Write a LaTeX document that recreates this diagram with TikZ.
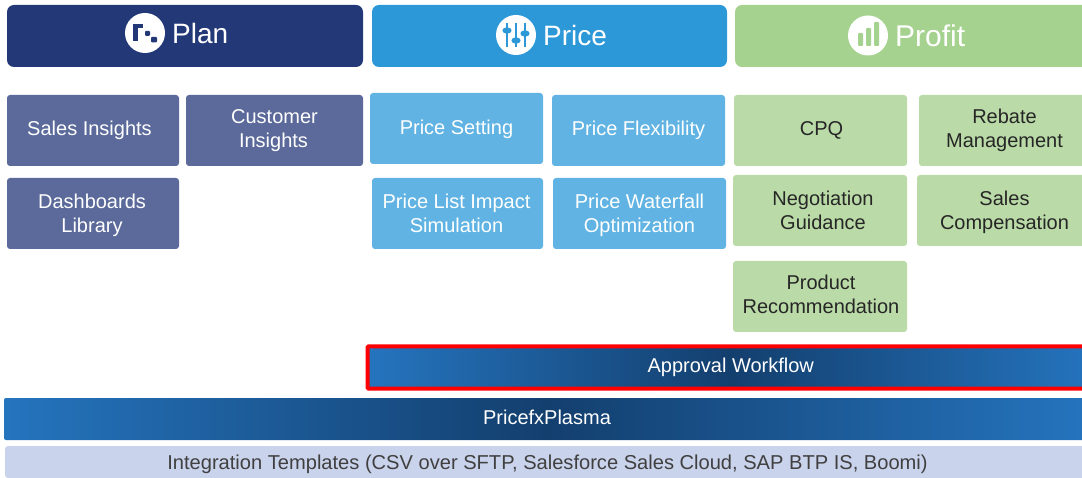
\documentclass[tikz,border=0pt]{standalone}
\usepackage{fontspec}
\setmainfont{Liberation Sans}
\tikzset{x=1pt,y=-1pt,
 base/.style={rounded corners=3pt,align=center,inner sep=0pt,font=\fontsize{20}{24}\selectfont,text depth=0pt},
 up2/.style={text depth=4pt},
 planbox/.style={base,fill=plancol,text=white},
 pricebox/.style={base,fill=pricecol,text=white},
 profitbox/.style={base,fill=profitcol,text=black!85},
 head/.style={rounded corners=7pt,inner sep=0pt,text=white},
 headtext/.style={anchor=west,text=white,inner sep=0pt},
 bar/.style={inner sep=0pt,rounded corners=2pt,left color=barlight,right color=barlight,middle color=bardark,text=white,font=\fontsize{20}{24}\selectfont},
 icon/.style={circle,fill=white,draw=none,minimum size=40pt,inner sep=0pt}}
\definecolor{plancol}{HTML}{5B6A9A}
\definecolor{pricecol}{HTML}{60B3E2}
\definecolor{profitcol}{HTML}{BADBA7}
\definecolor{barlight}{HTML}{2574BE}
\definecolor{bardark}{HTML}{133F6E}
\definecolor{headplan}{HTML}{233876}
\definecolor{headprice}{HTML}{2C98D8}
\definecolor{headprofit}{HTML}{A5D28F}
\definecolor{intcol}{HTML}{CAD3EC}
\newcommand{\bx}[7]{\node[#1,minimum width=#5pt-#3pt,minimum height=#6pt-#4pt] (#2) at ({(#3+#5)/2},{(#4+#6)/2}) {#7};}
\begin{document}
\begin{tikzpicture}
\useasboundingbox (0,0) rectangle (1082,478);
\clip (0,0) rectangle (1082,478);
\fill[white] (0,0) rectangle (1082,478);
% headers
\bx{head,fill=headplan}{hplan}{7}{5}{363}{67}{}
\bx{head,fill=headprice}{hprice}{372}{5}{727}{67}{}
\bx{head,fill=headprofit}{hprofit}{735}{5}{1092}{67}{}
\node[headtext,font=\fontsize{28}{32}\selectfont] (tplan) at (172,33) {Plan};
\node[headtext,font=\fontsize{28}{32}\selectfont] (tprice) at (543,35) {Price};
\node[headtext,font=\fontsize{30}{34}\selectfont] (tprofit) at (895,36) {Profit};
% icons
\node[icon] (iplan) at (145,33) {};
\fill[headplan] (133,24) rectangle (138,41);
\fill[headplan] (133,24) rectangle (143,28);
\fill[headplan,rounded corners=1pt] (145,31) rectangle (150,36);
\fill[headplan,rounded corners=1pt] (151,37) rectangle (157,42.5);
\node[icon] (iprice) at (516,35) {};
\foreach \xx/\yy in {507/30.5,516/40.5,525/33.5}{
 \draw[headprice,line width=2pt] (\xx,23) -- (\xx,47);
 \fill[headprice] (\xx,\yy) ellipse (4.6pt and 3.2pt);}
\node[icon] (iprofit) at (868,35.5) {};
\fill[headprofit,rounded corners=1pt] (858,33) rectangle (863,46);
\fill[headprofit,rounded corners=1pt] (866,28) rectangle (871,46);
\fill[headprofit,rounded corners=1pt] (874,22) rectangle (879,46);
% plan
\bx{planbox,up2}{sales}{7}{95}{179}{166}{Sales Insights\hspace*{7pt}}
\bx{planbox,up2}{cust}{186}{95}{363}{166}{Customer\\Insights\vphantom{g}\hspace*{2pt}}
\bx{planbox}{dash}{7}{178}{179}{249}{Dashboards\hspace*{2pt}\\Library\hspace*{2pt}}
% price
\bx{pricebox,text depth=2pt}{pset}{370}{93}{543}{164}{Price Setting}
\bx{pricebox,up2}{pflex}{552}{95}{725}{166}{Price Flexibility}
\bx{pricebox}{plist}{372}{178}{543}{249}{Price List Impact\hspace*{2pt}\\Simulation\hspace*{2pt}}
\bx{pricebox}{pwat}{553}{178}{726}{249}{Price Waterfall\\Optimization}
% profit
\bx{profitbox,up2}{cpq}{734}{95}{907}{166}{\hspace*{2pt}CPQ}
\bx{profitbox,up2}{reb}{919}{95}{1092}{166}{Rebate\hspace*{2pt}\\Management\hspace*{2pt}}
\bx{profitbox}{neg}{733}{175}{907}{246}{\hspace*{6pt}Negotiation\\\hspace*{6pt}Guidance}
\bx{profitbox}{comp}{917}{175}{1092}{246}{Sales\\Compensation}
\bx{profitbox,up2}{rec}{733}{261}{907}{332}{\hspace*{2pt}Product\\\hspace*{2pt}Recommendation}
% bars
\bx{bar,draw=red,line width=4pt,rounded corners=1pt}{appr}{367.5}{346.5}{1094}{388.5}{Approval Workflow}
\bx{bar,up2}{plasma}{4}{398}{1090}{440}{PricefxPlasma}
\bx{base,fill=intcol,text=black!75,font=\fontsize{20.1}{24}\selectfont}{integ}{5}{446}{1090}{478}{Integration Templates (CSV over SFTP, Salesforce Sales Cloud, SAP BTP IS, Boomi)}
\end{tikzpicture}
\end{document}
